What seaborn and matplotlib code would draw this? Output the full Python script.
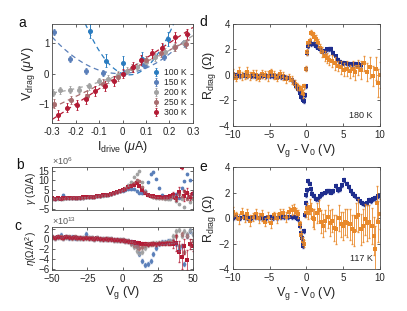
import numpy as np
import pandas as pd
import seaborn as sns
import matplotlib.pyplot as plt

# ---- panel a : V_drag vs I_drive ----
temps = ['100 K', '150 K', '200 K', '250 K', '300 K']
a_x100 = [-0.14, -0.07, 0.0, 0.085, 0.195]
a_y100 = [1.38, 0.42, 0.34, 0.48, 1.12]
a_x150 = [-0.29, -0.225, -0.155, -0.083, 0.005, 0.09, 0.175, 0.265]
a_y150 = [1.34, 0.47, 0.07, 0.02, 0.03, 0.27, 0.55, 0.97]
a_x200 = [-0.297, -0.265, -0.225, -0.184, -0.144, -0.1, -0.062, -0.02, 0.02, 0.062, 0.1, 0.14, 0.18, 0.22, 0.263]
a_y200 = [-0.62, -0.54, -0.52, -0.52, -0.41, -0.25, -0.17, -0.05, 0.09, 0.22, 0.38, 0.54, 0.7, 0.85, 0.98]
a_x250 = [-0.29, -0.22, -0.15, -0.085, -0.02, 0.04, 0.1, 0.165, 0.225, 0.27]
a_y250 = [-0.97, -0.86, -0.72, -0.33, -0.1, 0.18, 0.43, 0.66, 0.86, 0.96]
a_x300 = [-0.276, -0.236, -0.194, -0.155, -0.116, -0.073, -0.038, 0.0, 0.044, 0.08, 0.125, 0.168, 0.225, 0.275]
a_y300 = [-1.34, -1.1, -1.03, -0.82, -0.56, -0.41, -0.24, 0.0, 0.22, 0.45, 0.65, 0.83, 1.18, 1.29]
a_err = [0.22, 0.1, 0.12, 0.14, 0.16]

# ---- panels b, c : gamma, eta vs Vg ----
vg = np.arange(-50, 51, 2)
b_blue = [0.5, 0.3, 0.6, 0.4, 2.5, 0.7, 0.6, 0.8, 0.7, 0.8,
          0.9, 1.0, 1.1, 1.3, 1.4, 1.5, 1.7, 1.9, 2.1, 2.3,
          2.6, 3.0, 3.4, 3.8, 4.2, 4.6, 5.2, 5.5, 5.6, 5.4,
          4.5, 3.6, 3.2, 4.5, 9.0, 13.5, 14.5, 11.0, 6.0, 2.5,
          1.2, 1.0, 0.8, 1.5, 3.0, 1.0, 6.0, 9.5, 13.5, 10.0, 3.0]
b_gray = [0.3, 0.5, 0.4, 0.6, 0.5, 0.7, 0.6, 0.8, 0.7, 0.9,
          0.9, 1.0, 1.1, 1.2, 1.3, 1.4, 1.6, 1.8, 2.0, 2.2,
          2.5, 2.9, 3.3, 3.8, 4.4, 5.2, 6.2, 7.5, 9.2, 12.0,
          13.5, 14.8, 9.0, 4.5, 2.5, 1.6, 1.2, 0.9, 0.8, 0.6,
          0.5, 0.3, 0.2, 1.5, -1.0, -2.5, 0.5, -4.0, 1.0, -1.5, 0.5]
b_brown = [0.5, 0.4, 0.6, 0.5, 0.6, 0.7, 0.7, 0.8, 0.8, 0.9,
           1.0, 1.0, 1.1, 1.2, 1.3, 1.5, 1.7, 1.9, 2.1, 2.3,
           2.6, 3.0, 3.4, 3.8, 4.3, 4.9, 5.6, 6.4, 7.4, 8.8,
           10.0, 9.5, 6.5, 3.8, 2.5, 1.8, 1.4, 1.1, 1.0, 0.9,
           0.9, 1.0, 1.2, 1.8, 0.5, 3.0, 1.5, 4.5, 0.5, 2.0, 1.0]
b_red = [0.6, 0.4, 0.7, 0.5, 0.6, 0.8, 0.7, 0.9, 0.8, 1.0,
         1.0, 1.1, 1.2, 1.3, 1.4, 1.5, 1.7, 1.9, 2.1, 2.3,
         2.6, 3.0, 3.4, 3.8, 4.3, 4.9, 5.6, 6.3, 7.0, 7.8,
         8.4, 7.2, 5.2, 3.6, 2.6, 2.0, 1.6, 1.3, 1.2, 1.1,
         1.2, 1.4, 1.8, 2.5, 1.0, 4.0, 16.8, 2.0, 3.5, 1.5, 2.8]
b_red_err = [0.5] * 43 + [1.5, 2.0, 2.5, 1.0, 3.0, 2.5, 2.0, 1.5]

c_blue = [0.3, 0.2, 0.3, 0.8, 0.2, 0.3, 0.2, 0.3, 0.2, 0.2,
          0.2, 0.1, 1.0, 0.1, 0.1, 0.0, 0.1, 0.0, -0.1, 0.0,
          -0.1, -0.1, -0.2, -0.2, -0.3, -0.3, -0.4, -0.5, -0.6, -0.8,
          -1.5, -3.0, -4.3, -5.1, -5.0, -4.3, -3.0, -1.8, -1.0, -0.7,
          -0.6, -0.5, -0.5, -0.5, -1.0, -2.0, -1.5, -5.0, 0.5, 1.5, 1.0]
c_gray = [0.3, 0.2, 0.4, 0.3, 0.2, 0.4, 0.3, 0.2, 0.3, 0.2,
          0.2, 0.1, 0.2, 0.1, 0.1, 0.0, 0.1, 0.0, -0.1, 0.0,
          -0.1, -0.1, -0.2, -0.2, -0.3, -0.3, -0.4, -0.5, -1.0, -1.6,
          -2.3, -2.7, -2.5, -1.8, -1.3, -1.0, -0.9, -0.9, -0.8, -0.8,
          -0.8, -0.6, -0.5, 0.5, 1.5, 1.8, 0.5, 1.5, 1.0, 1.8, 1.0]
c_brown = [0.3, 0.2, 0.3, 0.3, 0.2, 0.3, 0.3, 0.2, 0.3, 0.2,
           0.2, 0.1, 0.2, 0.1, 0.1, 0.0, 0.1, 0.0, -0.1, 0.0,
           -0.1, -0.1, -0.2, -0.2, -0.3, -0.3, -0.4, -0.5, -0.8, -1.2,
           -1.6, -1.8, -1.6, -1.3, -1.1, -1.0, -1.0, -1.0, -0.9, -0.9,
           -0.9, -0.8, -0.8, -0.5, 0.5, -1.5, 1.0, -2.5, 0.5, -1.0, -0.5]
c_red = [0.3, 0.2, 0.4, 0.3, 0.2, 0.4, 0.3, 0.2, 0.3, 0.2,
         0.2, 0.1, 0.2, 0.1, 0.1, 0.0, 0.1, 0.0, -0.1, 0.0,
         -0.1, -0.1, -0.2, -0.2, -0.3, -0.3, -0.4, -0.5, -0.6, -0.7,
         -0.8, -0.9, -1.0, -1.0, -1.1, -1.0, -1.0, -1.1, -1.0, -1.0,
         -1.0, -0.9, -1.0, -1.1, -0.8, -2.5, -3.5, -1.5, -4.2, -1.0, -1.5]
c_red_err = [0.3] * 43 + [0.8, 1.5, 2.0, 2.5, 1.5, 2.0, 1.0, 0.8]

# ---- panel d : R_drag at 180 K ----
d_nv_x = [-10, -9.5, -9, -8.5, -8, -7.5, -7, -6.5, -6, -5.5,
          -5, -4.5, -4, -3.5, -3, -2.5, -2, -1.7, -1.4, -1.1,
          -0.9, -0.7, -0.5, -0.35, -0.2, -0.1, 0.0, 0.1, 0.25, 0.45,
          0.7, 1.0, 1.3, 1.6, 1.9, 2.2, 2.5, 2.8, 3.1, 3.4,
          3.7, 4.0, 4.3, 4.6, 5.0, 5.4, 5.8, 6.2, 6.6, 7.0, 7.4]
d_nv_y = [0.0, 0.0, -0.05, 0.0, -0.05, -0.05, -0.1, -0.05, -0.05, -0.1,
          -0.1, -0.1, -0.1, -0.15, -0.15, -0.2, -0.4, -0.55, -0.85, -1.1,
          -1.4, -1.7, -2.0, -2.05, -1.6, -0.9, 0.5, 1.7, 2.3, 2.55,
          2.45, 2.4, 2.3, 2.15, 2.0, 1.9, 1.9, 2.0, 2.05, 2.05,
          1.75, 1.45, 1.2, 1.05, 0.95, 0.9, 0.85, 0.85, 0.85, 0.85, 0.8]
d_or_x = [-10, -9.6, -9.2, -8.8, -8.4, -8.0, -7.6, -7.2, -6.8, -6.4,
          -6.0, -5.6, -5.2, -4.8, -4.4, -4.0, -3.6, -3.2, -2.8, -2.4,
          -2.0, -1.6, -1.3, -1.0, -0.7, -0.45, -0.25, -0.1, 0.1, 0.3,
          0.5, 0.7, 0.9, 1.1, 1.3, 1.6, 1.9, 2.2, 2.5, 2.8,
          3.1, 3.5, 3.9, 4.3, 4.7, 5.1, 5.5, 5.9, 6.3, 6.7,
          7.1, 7.5, 7.9, 8.3, 8.7, 9.1, 9.5, 9.8, 10.0]
d_or_y = [0.1, -0.2, 0.2, -0.1, 0.0, 0.2, -0.1, 0.1, 0.0, -0.2,
          0.1, 0.0, -0.1, 0.2, 0.0, -0.2, 0.1, -0.1, -0.3, -0.2,
          -0.4, -0.7, -0.9, -1.0, -1.2, -1.5, -0.9, 0.5, 1.8, 2.5,
          2.7, 3.3, 3.2, 3.0, 2.8, 2.5, 2.1, 1.8, 1.5, 1.3,
          1.2, 1.1, 0.9, 0.7, 0.6, 0.4, 0.5, 0.3, 0.5, 0.2,
          0.6, 0.4, 0.9, 0.2, 0.6, -0.1, 0.5, -0.6, 0.0]
d_or_err = [0.4, 0.3, 0.4, 0.3, 0.3, 0.4, 0.3, 0.3, 0.4, 0.3,
            0.3, 0.3, 0.4, 0.3, 0.3, 0.3, 0.3, 0.3, 0.3, 0.3,
            0.3, 0.3, 0.3, 0.2, 0.3, 0.3, 0.2, 0.2, 0.2, 0.2,
            0.2, 0.2, 0.2, 0.3, 0.3, 0.3, 0.3, 0.4, 0.4, 0.4,
            0.4, 0.5, 0.5, 0.4, 0.5, 0.5, 0.6, 0.5, 0.6, 0.6,
            0.6, 0.7, 0.6, 0.7, 0.8, 0.8, 0.9, 1.1, 1.0]

# ---- panel e : R_drag at 117 K ----
e_nv_x = [-10, -9.5, -9, -8.5, -8, -7.5, -7, -6.5, -6, -5.5,
          -5, -4.5, -4, -3.5, -3, -2.5, -2, -1.6, -1.3, -1.1,
          -0.9, -0.75, -0.6, -0.5, -0.4, -0.3, -0.2, -0.1, 0.0, 0.15,
          0.3, 0.45, 0.6, 0.8, 1.0, 1.3, 1.6, 1.9, 2.2, 2.5,
          2.8, 3.1, 3.4, 3.7, 4.0, 4.3, 4.6, 4.9, 5.2, 5.5,
          5.8, 6.1, 6.4, 6.7, 7.0, 7.3, 7.6, 7.9, 8.2, 8.5,
          8.8, 9.1, 9.4, 9.7]
e_nv_y = [0.0, 0.05, 0.0, 0.05, 0.0, 0.0, 0.05, 0.0, 0.0, 0.0,
          0.05, 0.0, 0.0, 0.05, 0.05, 0.1, 0.1, 0.1, 0.0, -0.1,
          -0.6, -1.2, -1.6, -2.2, -1.9, -1.0, 0.2, 1.2, 1.8, 2.2,
          2.9, 2.7, 2.3, 1.9, 1.7, 1.5, 1.5, 1.7, 1.9, 2.0,
          2.1, 2.1, 2.0, 2.1, 2.5, 2.2, 2.3, 2.6, 3.0, 2.7,
          2.4, 2.1, 1.9, 1.7, 1.5, 1.3, 1.2, 1.1, 1.2, 1.4,
          1.3, 1.5, 1.6, 1.7]
e_or_x = [-10, -9.6, -9.2, -8.8, -8.4, -8.0, -7.6, -7.2, -6.8, -6.4,
          -6.0, -5.6, -5.2, -4.8, -4.4, -4.0, -3.6, -3.2, -2.8, -2.4,
          -2.0, -1.7, -1.4, -1.1, -0.9, -0.7, -0.5, -0.3, -0.1, 0.1,
          0.3, 0.5, 0.7, 0.9, 1.1, 1.4, 1.7, 2.0, 2.3, 2.6,
          2.9, 3.2, 3.5, 3.8, 4.1, 4.4, 4.7, 5.0, 5.3, 5.6,
          5.9, 6.2, 6.5, 6.8, 7.1, 7.4, 7.7, 8.0, 8.3, 8.6,
          8.9, 9.2, 9.4, 9.6, 9.8, 10.0]
e_or_y = [0.5, 0.2, -0.1, 0.4, 0.0, 0.3, -0.2, 0.1, 0.3, 0.0,
          0.2, -0.3, 0.1, -0.4, 0.2, 0.0, 0.3, 0.4, 0.1, 0.5,
          0.6, 0.7, 0.5, 0.3, -0.5, -1.3, -1.8, -2.0, 0.4, 0.8,
          0.4, 0.9, 0.6, 0.0, -0.1, 0.4, 0.6, -0.3, -0.6, -0.2,
          0.1, -0.4, -0.2, -0.8, -0.9, 0.0, -0.5, -0.6, -0.3, -0.4,
          -0.5, -0.9, -1.0, 0.1, 0.2, -0.9, -0.6, -0.1, -0.4, -0.3,
          -0.6, -1.4, -2.4, 1.2, -0.3, 0.3]
e_or_err = [0.4, 0.3, 0.4, 0.4, 0.3, 0.4, 0.4, 0.3, 0.4, 0.4,
            0.4, 0.3, 0.4, 0.4, 0.3, 0.4, 0.4, 0.3, 0.4, 0.4,
            0.4, 0.4, 0.3, 0.3, 0.3, 0.3, 0.3, 0.3, 0.3, 0.4,
            0.5, 0.6, 0.6, 0.7, 0.8, 0.8, 0.8, 0.9, 0.9, 0.8,
            0.9, 1.0, 0.9, 1.0, 1.1, 1.0, 1.0, 1.1, 1.0, 1.1,
            1.2, 1.1, 1.2, 1.1, 1.3, 1.2, 1.3, 1.2, 1.4, 1.3,
            1.4, 1.5, 1.8, 1.3, 1.6, 1.2]

# colours
c100, c150, c200, c250, c300 = '#2a7cc0', '#5a7fb9', '#a2a2a2', '#a86d6f', '#b31b35'
navy, orange = '#1f2e8e', '#e8892b'
txt = '#262626'

sns.set_theme(style='ticks')
plt.rcParams['font.family'] = ['Liberation Sans', 'DejaVu Sans']
plt.rcParams['mathtext.fontset'] = 'custom'
plt.rcParams['mathtext.rm'] = 'Liberation Sans'
plt.rcParams['mathtext.it'] = 'Liberation Sans:italic'
plt.rcParams['axes.edgecolor'] = '#4a4a4a'
plt.rcParams['axes.linewidth'] = 0.6
plt.rcParams['text.color'] = txt
plt.rcParams['axes.labelcolor'] = txt

fig = plt.figure(figsize=(4.07, 3.11), dpi=100)
ax_a = fig.add_axes([0.128, 0.6045, 0.346, 0.318])
ax_b = fig.add_axes([0.128, 0.3248, 0.346, 0.138])
ax_c = fig.add_axes([0.128, 0.132, 0.346, 0.138])
ax_d = fig.add_axes([0.572, 0.595, 0.361, 0.328])
ax_e = fig.add_axes([0.572, 0.135, 0.361, 0.328])


def style(ax):
    ax.tick_params(direction='in', top=True, right=True, length=2, width=0.5,
                   labelsize=7, colors=txt)
    ax.tick_params(axis='x', pad=3)
    ax.tick_params(axis='y', pad=2)
    for s in ax.spines.values():
        s.set_visible(True)


# panel a
I_fit = np.linspace(-0.3, 0.3, 200)
series_a = [(a_x100, a_y100, c100), (a_x150, a_y150, c150), (a_x200, a_y200, c200),
            (a_x250, a_y250, c250), (a_x300, a_y300, c300)]
for (xs, ys, col), lab, err in zip(series_a, temps, a_err):
    xs = np.array(xs)
    A = np.column_stack([xs, xs ** 2])
    coef = np.linalg.lstsq(A, np.array(ys), rcond=None)[0]
    sns.lineplot(x=I_fit, y=coef[0] * I_fit + coef[1] * I_fit ** 2, ax=ax_a,
                 color=col, lw=0.9, linestyle=(0, (4, 3)))
    ax_a.errorbar(xs, ys, yerr=err, fmt='o', ms=2.6, color=col, ecolor=col,
                  elinewidth=0.7, capsize=1.0, capthick=0.6, label=lab)
ax_a.set_xlim(-0.3, 0.3)
ax_a.set_ylim(-1.6, 1.6)
ax_a.set_xticks([-0.3, -0.2, -0.1, 0, 0.1, 0.2, 0.3])
ax_a.set_xticklabels(['-0.3', '-0.2', '-0.1', '0', '0.1', '0.2', '0.3'])
ax_a.set_yticks([-1, 0, 1])
ax_a.set_xlabel(r'I$_{\rm drive}$ ($\mu$A)', fontsize=9, labelpad=1)
ax_a.set_ylabel(r'V$_{\rm drag}$ ($\mu$V)', fontsize=9, labelpad=1)
ax_a.legend(loc='lower right', fontsize=6.2, frameon=False, handlelength=0.9,
            handletextpad=0.5, labelspacing=0.12, borderaxespad=0.3)
style(ax_a)

# panels b and c
for ax, data, errs in [(ax_b, [b_blue, b_gray, b_brown, b_red], b_red_err),
                       (ax_c, [c_blue, c_gray, c_brown, c_red], c_red_err)]:
    for vals, col in zip(data, [c150, c200, c250, c300]):
        e = errs if col == c300 else 0.4
        ax.errorbar(vg, vals, yerr=e, fmt='none', ecolor=col, elinewidth=0.6,
                    capsize=0.8, alpha=0.8)
        sns.scatterplot(x=vg, y=vals, ax=ax, color=col, s=7, linewidth=0,
                        marker='s' if col == c300 else 'o')
    ax.set_xlim(-50, 50)
    ax.set_xticks([-50, -25, 0, 25, 50])
    style(ax)
ax_b.set_ylim(-5.5, 17)
ax_b.set_yticks([-5, 0, 5, 10, 15])
ax_b.set_xticklabels([])
ax_b.set_ylabel(r'$\gamma$ ($\Omega$/A)', fontsize=7.2, labelpad=0)
ax_b.text(0.0, 1.01, r'$\times$10$^{6}$', transform=ax_b.transAxes, fontsize=6.5,
          ha='left', va='bottom', color='#555555')
ax_c.set_ylim(-6.1, 2.3)
ax_c.set_yticks([-6, -4, -2, 0, 2])
ax_c.set_ylabel(r'$\eta$($\Omega$/A$^2$)', fontsize=7.2, labelpad=-0.5)
ax_c.set_xlabel(r'V$_{\rm g}$ (V)', fontsize=9, labelpad=0)
ax_c.text(0.0, 1.01, r'$\times$10$^{13}$', transform=ax_c.transAxes, fontsize=6.5,
          ha='left', va='bottom', color='#555555')

# panels d and e
for ax, nx, ny, ox, oy, oe, tlab in [
        (ax_d, d_nv_x, d_nv_y, d_or_x, d_or_y, d_or_err, '180 K'),
        (ax_e, e_nv_x, e_nv_y, e_or_x, e_or_y, e_or_err, '117 K')]:
    ax.errorbar(nx, ny, yerr=0.15, fmt='none', ecolor=navy, elinewidth=0.6,
                capsize=0.8, alpha=0.8)
    sns.scatterplot(x=nx, y=ny, ax=ax, color=navy, s=8, linewidth=0, marker='s')
    ax.errorbar(ox, oy, yerr=oe, fmt='none', ecolor=orange, elinewidth=0.7,
                capsize=1.0, alpha=0.85)
    sns.scatterplot(x=ox, y=oy, ax=ax, color=orange, s=8, linewidth=0, marker='s')
    ax.set_xlim(-10, 10)
    ax.set_ylim(-4, 4)
    ax.set_xticks([-10, -5, 0, 5, 10])
    ax.set_yticks([-4, -2, 0, 2, 4])
    ax.set_xlabel(r'V$_{\rm g}$ - V$_0$ (V)', fontsize=9, labelpad=1)
    ax.set_ylabel(r'R$_{\rm drag}$ ($\Omega$)', fontsize=9, labelpad=1)
    ax.text(0.95, 0.1, tlab, transform=ax.transAxes, ha='right', va='center',
            fontsize=6.5)
    style(ax)

for lab, x, y in [('a', 0.045, 0.913), ('b', 0.04, 0.455), ('c', 0.035, 0.262),
                  ('d', 0.49, 0.916), ('e', 0.49, 0.45)]:
    fig.text(x, y, lab, fontsize=10, ha='left', va='baseline', color='#111111')

fig.savefig('out.png', dpi=100)
